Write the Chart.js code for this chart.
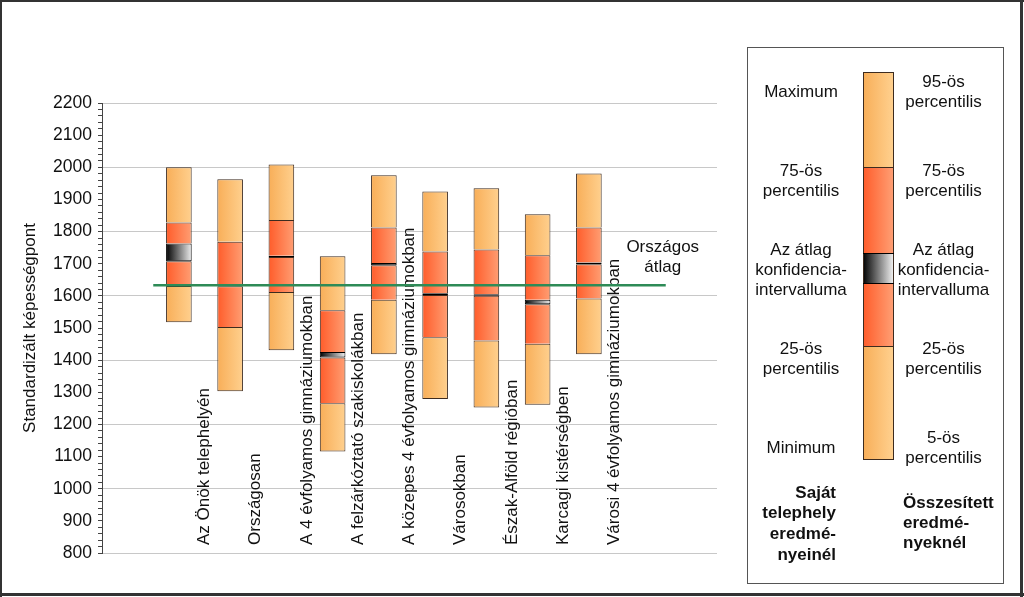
<!DOCTYPE html>
<html><head><meta charset="utf-8">
<script src="https://cdn.jsdelivr.net/npm/chart.js@4.4.1/dist/chart.umd.min.js"></script>
<style>html,body{margin:0;padding:0;background:#fff;}#wrap{width:1024px;height:597px;position:relative}</style>
</head><body><div id="wrap"><canvas id="c" width="1024" height="597"></canvas></div>
<script>
// ---- data ----
const categories = ['Az Önök telephelyén','Országosan','A 4 évfolyamos gimnáziumokban','A felzárkóztató szakiskolákban','A közepes 4 évfolyamos gimnáziumokban','Városokban','Észak-Alföld régióban','Karcagi kistérségben','Városi 4 évfolyamos gimnáziumokban'];
const p5     = [1518, 1303, 1431, 1116, 1418, 1279, 1253, 1261, 1418];
const p25    = [1631, 1503, 1612, 1266, 1588, 1471, 1461, 1451, 1592];
const ciLow  = [1708, 1630, 1721, 1408, 1695, 1603, 1600, 1574, 1698];
const ciHigh = [1763, 1636, 1725, 1425, 1702, 1608, 1605, 1588, 1704];
const p75    = [1828, 1768, 1836, 1555, 1813, 1738, 1744, 1726, 1813];
const p95    = [2000, 1963, 2009, 1723, 1975, 1925, 1935, 1854, 1981];
const nationalAvg = 1633;
const avgLabel = ['Országos', 'átlag'];
const yTitle = 'Standardizált képességpont';
const yMin = 800, yMax = 2200, yStep = 20;
const legendLeft = [['Maximum'], ['75-ös','percentilis'], ['Az átlag','konfidencia-','intervalluma'], ['25-ös','percentilis'], ['Minimum']];
const legendRight = [['95-ös','percentilis'], ['75-ös','percentilis'], ['Az átlag','konfidencia-','intervalluma'], ['25-ös','percentilis'], ['5-ös','percentilis']];
const legendFootLeft = ['Saját','telephely','eredmé-','nyeinél'];
const legendFootRight = ['Összesített','eredmé-','nyeknél'];

// ---- helpers ----
const FONT = '"Liberation Sans", Arial, sans-serif';
const slots = ['', ...categories, '', ''];
const pad = arr => [null, ...arr, null, null];
const pairs = (a, b) => pad(a.map((v, i) => [v, b[i]]));
const PAL = {
  light: ['#F8AE58', '#FFD08E', '#F9B866'],
  dark:  ['#FF5C2A', '#FF9E73', '#FF7A48'],
  ci:    ['#000000', '#EEEEEE', '#777777']
};
function grad(ctx2d, x0, x1, kind) {
  const g = ctx2d.createLinearGradient(x0, 0, x1, 0);
  g.addColorStop(0, PAL[kind][0]);
  g.addColorStop(1, PAL[kind][1]);
  return g;
}
function barFill(kind) {
  return (c) => {
    const xs = c.chart.scales && c.chart.scales.x;
    if (!xs || c.dataIndex == null || !c.chart.chartArea) return PAL[kind][2];
    const cx = xs.getPixelForValue(c.dataIndex);
    const w = xs.width / slots.length * 0.5;
    return grad(c.chart.ctx, cx - w / 2, cx + w / 2, kind);
  };
}
function barDS(data, kind, border, bw) {
  return {
    type: 'bar', data, grouped: false, order: 1,
    backgroundColor: barFill(kind), borderColor: border, borderWidth: bw,
    borderSkipped: false, categoryPercentage: 1, barPercentage: 0.5
  };
}
const BW_ALL = 1;
const BW_OPEN = { top: 1, left: 1, right: 1, bottom: 0 };

const overlay = {
  id: 'overlay',
  beforeDatasetsDraw(chart) {
    const { ctx, chartArea, scales: { x } } = chart;
    const slot = x.width / slots.length;
    ctx.save();
    ctx.font = '17px ' + FONT;
    ctx.fillStyle = '#111';
    categories.forEach((name, i) => {
      const px = x.getPixelForValue(i + 1) + slot / 2;
      ctx.save();
      ctx.translate(px, chartArea.bottom - 8);
      ctx.rotate(-Math.PI / 2);
      ctx.textAlign = 'left'; ctx.textBaseline = 'middle';
      ctx.fillText(name, 0, 0);
      ctx.restore();
    });
    ctx.restore();
  },
  afterDraw(chart) {
    const { ctx, scales: { x2, y } } = chart;
    ctx.save();
    // national average label
    ctx.font = '17px ' + FONT; ctx.fillStyle = '#111';
    ctx.textAlign = 'center'; ctx.textBaseline = 'middle';
    const ax = x2.getPixelForValue(10.5) - 3;
    const ay = y.getPixelForValue(nationalAvg);
    ctx.fillText(avgLabel[0], ax, ay - 38);
    ctx.fillText(avgLabel[1], ax, ay - 18);

    // legend box
    ctx.strokeStyle = '#555'; ctx.lineWidth = 1;
    ctx.strokeRect(747.5, 47.5, 256, 536);
    const bx0 = 863, bx1 = 893;
    const segs = [[72, 167, 'light'], [167, 253, 'dark'], [253, 283, 'ci'], [283, 346, 'dark'], [346, 459, 'light']];
    segs.forEach(([t, b, k]) => {
      ctx.fillStyle = grad(ctx, bx0, bx1, k);
      ctx.fillRect(bx0, t, bx1 - bx0, b - t);
    });
    ctx.strokeStyle = '#3d2b1f';
    ctx.strokeRect(bx0 + 0.5, 72.5, bx1 - bx0, 459 - 72);
    [167, 253, 283, 346].forEach(v => {
      ctx.strokeStyle = (v === 253 || v === 283) ? '#000' : '#3d2b1f';
      ctx.beginPath(); ctx.moveTo(bx0, v + 0.5); ctx.lineTo(bx1 + 1, v + 0.5); ctx.stroke();
    });
    ctx.fillStyle = '#111';
    ctx.font = '17px ' + FONT;
    ctx.textAlign = 'center';
    const leftY = [[92], [171, 191], [250, 270, 290], [349, 369], [448]];
    const rightY = [[82, 102], [171, 191], [250, 270, 290], [349, 369], [438, 458]];
    legendLeft.forEach((lines, i) => lines.forEach((t, j) => ctx.fillText(t, 801, leftY[i][j])));
    legendRight.forEach((lines, i) => lines.forEach((t, j) => ctx.fillText(t, 943.5, rightY[i][j])));
    ctx.font = 'bold 17px ' + FONT;
    ctx.textAlign = 'right';
    legendFootLeft.forEach((t, j) => ctx.fillText(t, 836, 493 + j * 20.7));
    ctx.textAlign = 'left';
    legendFootRight.forEach((t, j) => ctx.fillText(t, 903, 503 + j * 20));

    // outer frame
    ctx.fillStyle = '#333';
    ctx.fillRect(0, 0, 1024, 2);
    ctx.fillRect(0, 0, 2, 597);
    ctx.fillRect(1020, 0, 3, 597);
    ctx.fillRect(0, 593, 1024, 3);
    ctx.restore();
  }
};

Chart.defaults.font.family = FONT;
Chart.defaults.font.size = 17;
Chart.defaults.color = '#111';

new Chart(document.getElementById('c'), {
  data: {
    labels: slots,
    datasets: [
      barDS(pairs(p5, p25), 'light', '#3d2b1f', BW_ALL),
      barDS(pairs(p25, ciLow), 'dark', '#3d2b1f', BW_OPEN),
      barDS(pairs(ciHigh, p75), 'dark', '#3d2b1f', BW_OPEN),
      barDS(pairs(p75, p95), 'light', '#3d2b1f', BW_OPEN),
      barDS(pairs(ciLow, ciHigh), 'ci', '#000', BW_ALL),
      {
        type: 'line', xAxisID: 'x2', order: 0,
        data: [{ x: 0.5, y: nationalAvg }, { x: 10.5, y: nationalAvg }],
        borderColor: '#2E8B57', borderWidth: 2.5, pointRadius: 0, fill: false
      }
    ]
  },
  options: {
    responsive: false, animation: false, devicePixelRatio: 1,
    layout: { padding: { top: 103, right: 307, bottom: 44, left: 0 } },
    plugins: { legend: { display: false }, tooltip: { enabled: false } },
    scales: {
      x: { type: 'category', display: false, offset: true, grid: { display: false } },
      x2: { type: 'linear', display: false, min: -0.5, max: 11.5 },
      y: {
        min: yMin, max: yMax,
        afterFit: (s) => { s.width = 102; },
        border: { display: true, color: '#444', width: 1 },
        grid: {
          color: (c) => (c.tick && c.tick.value % 200 === 0) ? '#C8C8C8' : 'rgba(0,0,0,0)',
          tickColor: '#444', tickLength: 4, drawTicks: true
        },
        ticks: {
          stepSize: yStep, autoSkip: false, padding: 6, color: '#111',
          font: { size: 17.5 },
          callback: (v) => (v % 100 === 0 ? String(v) : '')
        },
        title: { display: true, text: yTitle, padding: { top: 20, bottom: 0 }, color: '#111', font: { size: 17 } }
      }
    }
  },
  plugins: [overlay]
});
</script></body></html>
